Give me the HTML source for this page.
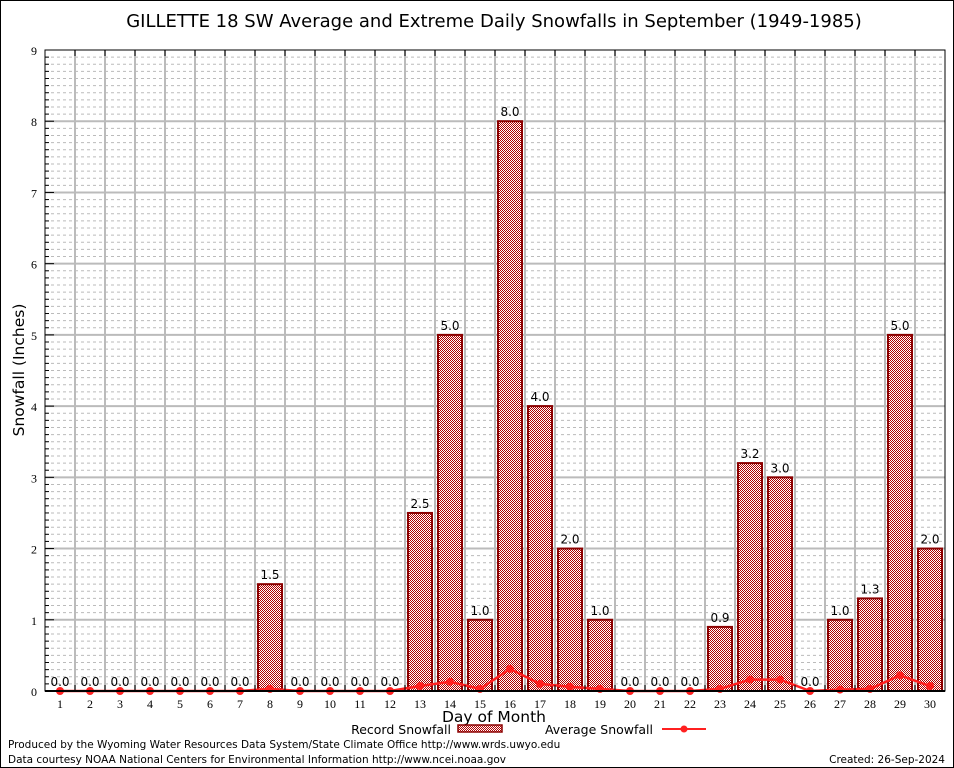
<!DOCTYPE html>
<html><head><meta charset="utf-8"><style>
body{margin:0;background:#fff}
svg{display:block;font-family:"DejaVu Sans","Liberation Sans",sans-serif}
</style></head><body>
<svg id="chart" width="954" height="768" viewBox="0 0 954 768" xmlns="http://www.w3.org/2000/svg">
<defs>
<pattern id="chk" width="2" height="2" patternUnits="userSpaceOnUse">
<rect width="2" height="2" fill="#fff"/><rect width="1" height="1" fill="#b00000"/><rect x="1" y="1" width="1" height="1" fill="#b00000"/>
</pattern>
</defs>
<rect x="0.5" y="0.5" width="953" height="767" fill="#fff" stroke="#000"/>
<text x="494" y="27" font-size="18" text-anchor="middle">GILLETTE 18 SW Average and Extreme Daily Snowfalls in September (1949-1985)</text>
<g id="grid"></g>
<g id="bars"></g>
<g id="avg"></g>
<g id="axes"></g>
<text x="24" y="370" font-size="15.5" text-anchor="middle" transform="rotate(-90 24 370)">Snowfall (Inches)</text>
<text x="494" y="722" font-size="15.5" text-anchor="middle">Day of Month</text>
<g>
<text x="451" y="734" font-size="12.5" text-anchor="end">Record Snowfall</text>
<rect x="458" y="725" width="44" height="7" fill="url(#chk)" stroke="#8b0000" stroke-width="1.5"/>
</g>
<g>
<text x="653" y="734" font-size="12.5" text-anchor="end">Average Snowfall</text>
<line x1="662" y1="729" x2="706" y2="729" stroke="#ff2020" stroke-width="2"/>
<circle cx="684" cy="729" r="3.5" fill="#ff2020"/>
</g>
<text x="8" y="748" font-size="10.5">Produced by the Wyoming Water Resources Data System/State Climate Office http://www.wrds.uwyo.edu</text>
<text x="8" y="763" font-size="10.5">Data courtesy NOAA National Centers for Environmental Information http://www.ncei.noaa.gov</text>
<text x="945" y="763" font-size="10.5" text-anchor="end">Created: 26-Sep-2024</text>
</svg>
<script>
const days=[1,2,3,4,5,6,7,8,9,10,11,12,13,14,15,16,17,18,19,20,21,22,23,24,25,26,27,28,29,30];
const recordValues=[0,0,0,0,0,0,0,1.5,0,0,0,0,2.5,5.0,1.0,8.0,4.0,2.0,1.0,0,0,0,0.9,3.2,3.0,0,1.0,1.3,5.0,2.0];
const averageValues=[0,0,0,0,0,0,0,0.03,0,0,0,0,0.07,0.13,0.03,0.31,0.1,0.06,0.03,0,0,0,0.03,0.16,0.16,0,0.02,0.03,0.22,0.07];
const yTicks=[0,1,2,3,4,5,6,7,8,9];
const NS="http://www.w3.org/2000/svg";
const L=45,R=945,T=50,B=691,YMAX=9;
const xs=d=>60+(d-1)*30;
const ys=v=>B-(v/YMAX)*(B-T);
function mk(tag,attrs,parent,txt){const e=document.createElementNS(NS,tag);for(const k in attrs)e.setAttribute(k,attrs[k]);if(txt!==undefined)e.textContent=txt;parent.appendChild(e);return e;}
const grid=document.getElementById('grid'),bars=document.getElementById('bars'),avg=document.getElementById('avg'),axes=document.getElementById('axes');
for(let i=1;i<YMAX*10;i++){if(i%10===0)continue;const y=ys(i/10);const l=mk('line',{x1:L,x2:R,y1:y,y2:y,stroke:'#bbb','stroke-dasharray':'3,3','stroke-width':1},grid);

}
yTicks.forEach(t=>{const y=ys(t);if(t>0&&t<YMAX){const l=mk('line',{x1:L,x2:R,y1:y,y2:y,stroke:'#bbb','stroke-width':2},grid);

}
const tx=mk('text',{x:37,y:y+5,'font-size':12,'text-anchor':'end','font-family':'Liberation Serif, serif'},axes,String(t));


const tk=mk('line',{x1:L,x2:L+9,y1:y,y2:y,stroke:'#000'},axes);

});
for(let i=1;i<YMAX*10;i++){if(i%10===0)continue;const y=ys(i/10);mk('line',{x1:L,x2:L+4,y1:y,y2:y,stroke:'#000'},axes);}
days.forEach((d,i)=>{if(i<days.length-1){const x=xs(d)+15;const l=mk('line',{x1:x,x2:x,y1:T,y2:B,stroke:'#bbb','stroke-width':2},grid);


mk('line',{x1:x,x2:x,y1:T,y2:T+6,stroke:'#000'},axes);mk('line',{x1:x,x2:x,y1:B,y2:B-6,stroke:'#000'},axes);}
const tx=mk('text',{x:xs(d),y:708,'font-size':12,'text-anchor':'middle','font-family':'Liberation Serif, serif'},axes,String(d));

});
mk('rect',{x:L,y:T,width:R-L,height:B-T,fill:'none',stroke:'#000','stroke-width':1},axes);
mk('line',{x1:L,x2:R,y1:B,y2:B,stroke:'#000','stroke-width':2},axes);
recordValues.forEach((v,i)=>{const x=xs(days[i]);
if(v>0){const r=mk('rect',{x:x-12,y:ys(v),width:24,height:B-ys(v),fill:'url(#chk)',stroke:'#8b0000','stroke-width':2},bars);

}
const t=mk('text',{x:x,y:ys(v)-5,'font-size':12,'text-anchor':'middle'},bars,v.toFixed(1));

});
const pl=mk('polyline',{points:averageValues.map((v,i)=>xs(days[i])+','+ys(v)).join(' '),fill:'none',stroke:'#ff2020','stroke-width':2.5},avg);


averageValues.forEach((v,i)=>{const c=mk('circle',{cx:xs(days[i]),cy:ys(v),r:4,fill:'#ff2020'},avg);

});
</script>
</body></html>
